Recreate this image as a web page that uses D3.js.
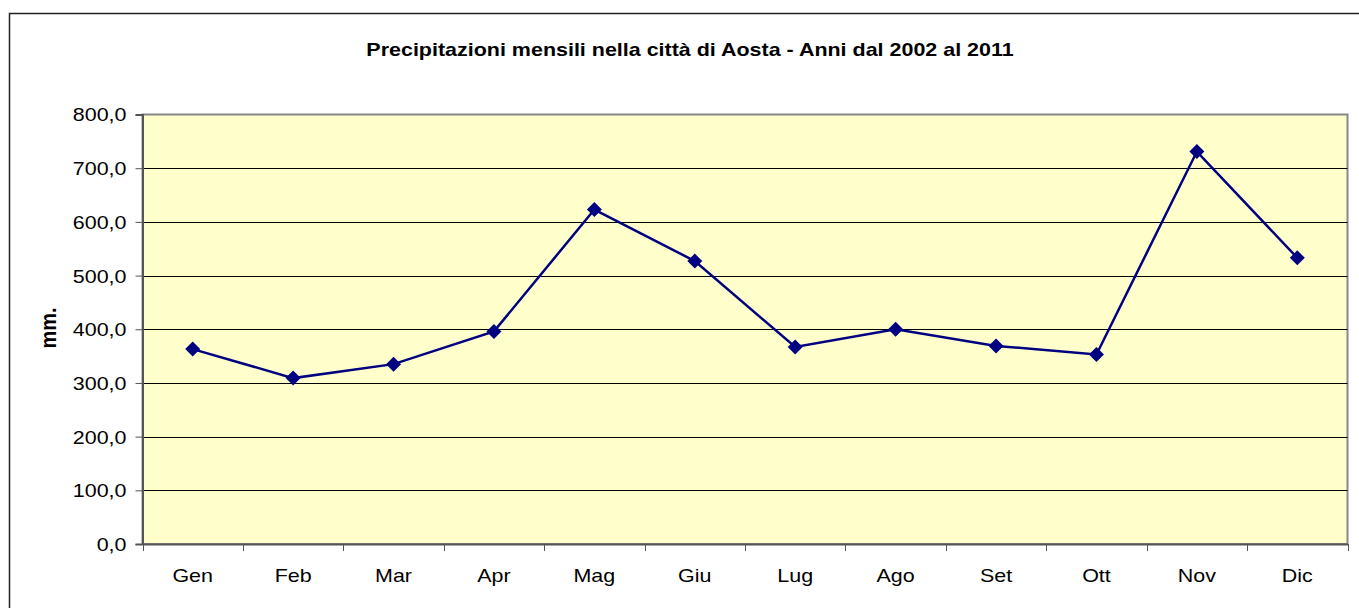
<!DOCTYPE html>
<html>
  <head>
    <title>Precipitazioni Aosta</title>
    <script src="https://d3js.org/d3.v7.min.js" charset="utf-8"></script>
    <style>
      body { margin: 0; background: white; font-family: "Liberation Sans", Arial, sans-serif; }
    </style>
  </head>
  <body>
    <script>
      // data
      var months = ["Gen","Feb","Mar","Apr","Mag","Giu","Lug","Ago","Set","Ott","Nov","Dic"];
      var rain = [363, 309, 335, 396, 623, 527, 367, 400, 369, 353, 731, 533];
      var yTicks = [0, 100, 200, 300, 400, 500, 600, 700, 800];

      var width = 1359, height = 608;
      var plot = { left: 142.5, top: 114.5, right: 1347.5, bottom: 544 };
      var stretch = "scale(1.13,1)";   // the original text is a bit wide

      var svg = d3.select("body").append("svg")
        .attr("width", width)
        .attr("height", height)
        .attr("font-family", "Liberation Sans, Arial, sans-serif");

      // outer frame
      svg.append("rect")
        .attr("x", 9.5).attr("y", 13.5)
        .attr("width", 1400).attr("height", 700)
        .attr("fill", "white")
        .attr("stroke", "#222").attr("stroke-width", 1.5);

      svg.append("text")
        .attr("transform", "translate(690,56) " + stretch)
        .attr("text-anchor", "middle")
        .attr("font-size", "19px").attr("font-weight", "bold")
        .text("Precipitazioni mensili nella città di Aosta - Anni dal 2002 al 2011");

      var x = d3.scaleBand().domain(months).range([plot.left, plot.right]);
      var y = d3.scaleLinear().domain([0, 800]).range([plot.bottom, plot.top]);

      // plot background
      svg.append("rect")
        .attr("x", plot.left).attr("y", plot.top)
        .attr("width", plot.right - plot.left).attr("height", plot.bottom - plot.top)
        .attr("fill", "#ffffcc")
        .attr("stroke", "#888").attr("stroke-width", 2);

      // gridlines
      svg.append("g").selectAll("line")
        .data(yTicks.filter(function(d){ return d > 0 && d < 800; }))
        .enter().append("line")
        .attr("x1", plot.left).attr("x2", plot.right)
        .attr("y1", function(d){ return Math.round(y(d)) + 0.5; })
        .attr("y2", function(d){ return Math.round(y(d)) + 0.5; })
        .attr("stroke", "#000").attr("stroke-width", 1);

      // y axis
      var yAxis = svg.append("g")
        .attr("transform", "translate(" + plot.left + ",0)")
        .call(d3.axisLeft(y).tickValues(yTicks).tickSize(7)
          .tickFormat(function(d){ return d3.format(".1f")(d).replace(".", ","); }));
      yAxis.select(".domain").attr("stroke", "#555").attr("stroke-width", 2);
      yAxis.selectAll(".tick line").attr("stroke", "#555");
      yAxis.selectAll("text")
        .attr("x", 0).attr("dy", "0.34em")
        .attr("transform", "translate(-16,0) " + stretch)
        .attr("font-size", "19px")
        .attr("font-family", "Liberation Sans, Arial, sans-serif").attr("fill", "#000");

      // x axis
      var xAxis = svg.append("g")
        .attr("transform", "translate(0," + plot.bottom + ")")
        .call(d3.axisBottom(x).tickSize(0));
      xAxis.select(".domain").attr("stroke", "#555").attr("stroke-width", 2);
      xAxis.selectAll("text")
        .attr("y", 0).attr("dy", 0)
        .attr("transform", "translate(0,38) " + stretch)
        .attr("font-size", "19px")
        .attr("font-family", "Liberation Sans, Arial, sans-serif").attr("fill", "#000");
      xAxis.append("g").selectAll("line")
        .data(months.concat(["end"]))
        .enter().append("line")
        .attr("x1", function(d, i){ return Math.round(plot.left + i * x.step()) + 0.5; })
        .attr("x2", function(d, i){ return Math.round(plot.left + i * x.step()) + 0.5; })
        .attr("y1", 0).attr("y2", 7)
        .attr("stroke", "#555");

      svg.append("text")
        .attr("transform", "translate(56,328) rotate(-90) scale(1,1.13)")
        .attr("text-anchor", "middle")
        .attr("font-size", "20px").attr("font-weight", "bold")
        .text("mm.");

      // series
      var cx = function(d, i){ return x(months[i]) + x.bandwidth() / 2; };
      var line = d3.line().x(cx).y(function(d){ return y(d); });

      svg.append("path")
        .datum(rain)
        .attr("d", line)
        .attr("fill", "none")
        .attr("stroke", "#000080")
        .attr("stroke-width", 2.5);

      svg.append("g").selectAll("path")
        .data(rain)
        .enter().append("path")
        .attr("transform", function(d, i){ return "translate(" + cx(d, i) + "," + y(d) + ")"; })
        .attr("d", "M0,-7.5L7.5,0L0,7.5L-7.5,0Z")
        .attr("fill", "#000080");
    </script>
  </body>
</html>
